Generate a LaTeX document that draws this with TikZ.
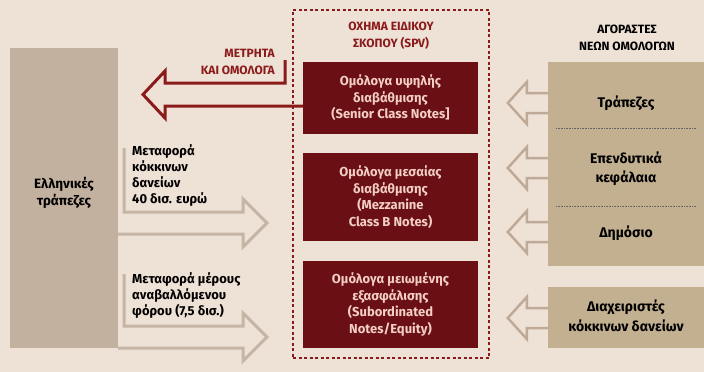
\documentclass[tikz,border=0pt]{standalone}
\usepackage{fontspec}
\setmainfont{Fira Sans}
\usetikzlibrary{calc}
\definecolor{bgc}{HTML}{EEE1D6}
\definecolor{leftc}{HTML}{C3B19F}
\definecolor{rightc}{HTML}{C2B091}
\definecolor{darkbox}{HTML}{6A1014}
\definecolor{boxtxt}{HTML}{F3CFC6}
\definecolor{redc}{HTML}{8B1A1A}
\definecolor{lightarr}{HTML}{C6B5A5}
\definecolor{smallarr}{HTML}{BFAA98}
\tikzset{
  bondbox/.style={fill=darkbox, minimum width=175pt, inner sep=0pt, text=boxtxt,
    font=\bfseries\fontsize{13}{16.5}\selectfont, align=center},
  lbl/.style={font=\bfseries\fontsize{13}{16}\selectfont, align=left, anchor=north west, inner sep=0pt},
  rtxt/.style={font=\bfseries\fontsize{14}{19}\selectfont, align=center, text=black},
  ttl/.style={font=\bfseries\fontsize{12}{17}\selectfont, align=center},
  bigarr/.style={draw=lightarr, line width=3pt, line join=miter},
  smallarrow/.style={draw=smallarr, line width=2.5pt, line join=miter},
  redarr/.style={draw=redc, line width=3pt, line join=miter},
}
\begin{document}
\begin{tikzpicture}[x=1pt,y=-1pt]
\fill[bgc] (0,0) rectangle (704,372);
\useasboundingbox (0,0) rectangle (704,372);

% left box
\node[fill=leftc, minimum width=108pt, minimum height=300pt, inner sep=0pt] (banks) at (64,198) {};
\node[rtxt, font=\bfseries\fontsize{13.5}{17}\selectfont] (bankstxt) at (64,193) {Ελληνικές\\τράπεζες};

% SPV frame
\node[draw=redc, dash pattern=on 3pt off 2.5pt, line width=1.8pt, minimum width=196pt, minimum height=348pt, inner sep=0pt] (spv) at (391,184) {};
\node[ttl, text=redc] (spvtitle) at (391,36) {ΟΧΗΜΑ ΕΙΔΙΚΟΥ\\ΣΚΟΠΟΥ (SPV)};

\node[bondbox, minimum height=72pt] (b1) at (390.5,98) {Ομόλογα υψηλής\\διαβάθμισης\\(Senior Class Notes]};
\node[bondbox, minimum height=88pt] (b2) at (390.5,197) {Ομόλογα μεσαίας\\διαβάθμισης\\(Mezzanine\\Class B Notes)};
\node[bondbox, minimum height=87pt] (b3) at (390.5,304.5) {Ομόλογα μειωμένης\\εξασφάλισης\\(Subordinated\\Notes/Equity)};

% right boxes
\node[ttl, text=black] (buytitle) at (627,38) {ΑΓΟΡΑΣΤΕΣ\\ΝΕΩΝ ΟΜΟΛΟΓΩΝ};
\node[fill=rightc, minimum width=156pt, minimum height=204pt, inner sep=0pt] (buyers) at (626,164) {};
\node[fill=rightc, minimum width=156pt, minimum height=61pt, inner sep=0pt] (servicers) at (626,317.5) {};
\draw[black!60, densely dotted, line width=0.6pt] (556,128) -- (696,128);
\draw[black!60, densely dotted, line width=0.6pt] (556,206) -- (696,206);
\node[rtxt] (t1) at (626,103) {Τράπεζες};
\node[rtxt] (t2) at (626,169) {Επενδυτικά\\κεφάλαια};
\node[rtxt] (t3) at (626,233) {Δημόσιο};
\node[rtxt, font=\bfseries\fontsize{14}{20}\selectfont] (t4) at (626,316) {Διαχειριστές\\κόκκινων δανείων};

% small left arrows
\foreach \cy/\nm in {103/sa1,168/sa2,232/sa3,318/sa4}{
  \coordinate (\nm) at (buyers.west |- 0,\cy);
  \draw[smallarrow] ($(\nm)+(0,-10)$) -- ++(-21,0) -- ++(0,-11) -- ++(-19,21) -- ++(19,21) -- ++(0,-11) -- ++(21,0);
}

% red arrow (cash and bonds)
\node[ttl, text=redc, align=right, anchor=north east, inner sep=0pt] (cash) at (275,49) {ΜΕΤΡΗΤΑ\\ΚΑΙ ΟΜΟΛΟΓΑ};
\coordinate (rs) at (285,60);
\draw[redarr] (rs) -- (285,83) -- (165,83) -- (165,71) -- (143,94.5) -- (165,118) -- (165,106) -- (b1.west |- 0,106);

% light right arrows
\node[lbl] (l1) at (132,144) {Μεταφορά\\κόκκινων\\δανείων\\40 δισ. ευρώ};
\node[lbl] (l2) at (132,272) {Μεταφορά μέρους\\αναβαλλόμενου\\φόρου (7,5 δισ.)};
\draw[bigarr] (124,148) -- (124,212) -- (243,212) -- (243,199) -- (267,223) -- (243,247) -- (243,234) -- (banks.east |- 0,234);
\draw[bigarr] (124,274) -- (124,326) -- (243,326) -- (243,313) -- (267,337) -- (243,361) -- (243,348) -- (banks.east |- 0,348);
\end{tikzpicture}
\end{document}
